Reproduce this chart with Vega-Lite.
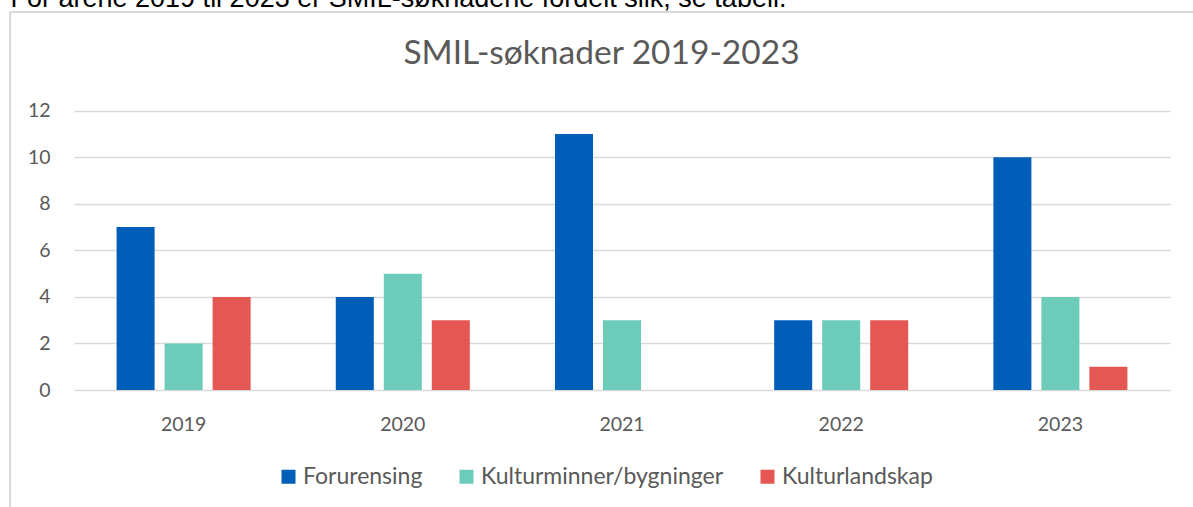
{
  "$schema": "https://vega.github.io/schema/vega-lite/v6.json",
  "width": 1183,
  "height": 495,
  "autosize": {"type": "none"},
  "padding": {"left": 10, "top": 12, "right": 0, "bottom": 0},
  "background": "white",
  "config": {
    "view": {"stroke": "#d9d9d9", "strokeWidth": 2, "strokeDash": [1183, 1678, 495, 0]},
    "font": "Lato"
  },
  "title": {
    "text": "SMIL-søknader 2019-2023",
    "font": "Lato",
    "fontSize": 33.5,
    "fontWeight": "normal",
    "color": "#595959",
    "anchor": "middle",
    "frame": "group",
    "baseline": "alphabetic",
    "offset": -113
  },
  "data": {
    "values": [
      {"year": "2019", "kategori": "Forurensing", "antall": 7},
      {"year": "2019", "kategori": "Kulturminner/bygninger", "antall": 2},
      {"year": "2019", "kategori": "Kulturlandskap", "antall": 4},
      {"year": "2020", "kategori": "Forurensing", "antall": 4},
      {"year": "2020", "kategori": "Kulturminner/bygninger", "antall": 5},
      {"year": "2020", "kategori": "Kulturlandskap", "antall": 3},
      {"year": "2021", "kategori": "Forurensing", "antall": 11},
      {"year": "2021", "kategori": "Kulturminner/bygninger", "antall": 3},
      {"year": "2021", "kategori": "Kulturlandskap", "antall": 0},
      {"year": "2022", "kategori": "Forurensing", "antall": 3},
      {"year": "2022", "kategori": "Kulturminner/bygninger", "antall": 3},
      {"year": "2022", "kategori": "Kulturlandskap", "antall": 3},
      {"year": "2023", "kategori": "Forurensing", "antall": 10},
      {"year": "2023", "kategori": "Kulturminner/bygninger", "antall": 4},
      {"year": "2023", "kategori": "Kulturlandskap", "antall": 1}
    ]
  },
  "mark": {"type": "bar"},
  "encoding": {
    "x": {
      "field": "year",
      "type": "nominal",
      "scale": {"range": [64, 1160], "paddingInner": 0, "paddingOuter": 0},
      "axis": {
        "title": null,
        "orient": "bottom",
        "offset": -117,
        "domain": false,
        "ticks": false,
        "tickSize": 0,
        "grid": false,
        "labelAngle": 0,
        "labelFont": "Lato",
        "labelFontSize": 19.5,
        "labelColor": "#595959",
        "labelBaseline": "alphabetic",
        "labelPadding": 40.5
      }
    },
    "xOffset": {
      "field": "kategori",
      "type": "nominal",
      "scale": {
        "domain": ["Forurensing", "Kulturminner/bygninger", "Kulturlandskap"],
        "paddingInner": 0.208,
        "paddingOuter": 0.887
      }
    },
    "y": {
      "field": "antall",
      "type": "quantitative",
      "scale": {"domain": [0, 12], "range": [378, 98.7], "nice": false, "zero": true},
      "axis": {
        "orient": "left",
        "offset": -40,
        "values": [0, 2, 4, 6, 8, 10, 12],
        "domain": false,
        "ticks": false,
        "tickSize": 0,
        "grid": true,
        "gridColor": "#d9d9d9",
        "gridWidth": 1.5,
        "labelFont": "Lato",
        "labelFontSize": 19.5,
        "labelColor": "#595959",
        "labelPadding": 0,
        "title": "For årene 2019 til 2023 er SMIL-søknadene fordelt slik, se tabell.",
        "titleFont": "Liberation Sans",
        "titleFontSize": 27,
        "titleFontWeight": "normal",
        "titleColor": "#000000",
        "titleAngle": 0,
        "titleAlign": "left",
        "titleBaseline": "alphabetic",
        "titleLimit": 0,
        "titleX": -40,
        "titleY": -6
      }
    },
    "color": {
      "field": "kategori",
      "type": "nominal",
      "scale": {
        "domain": ["Forurensing", "Kulturminner/bygninger", "Kulturlandskap"],
        "range": ["#005EB8", "#6DCBBA", "#E55752"]
      },
      "legend": {
        "title": null,
        "orient": "none",
        "direction": "horizontal",
        "legendX": 267,
        "legendY": 453,
        "padding": 0,
        "symbolType": "square",
        "symbolSize": 196,
        "symbolStrokeWidth": 0,
        "labelFont": "Lato",
        "labelFontSize": 23,
        "labelColor": "#595959",
        "labelOffset": 3,
        "labelLimit": 0,
        "columnPadding": 32
      }
    }
  }
}
